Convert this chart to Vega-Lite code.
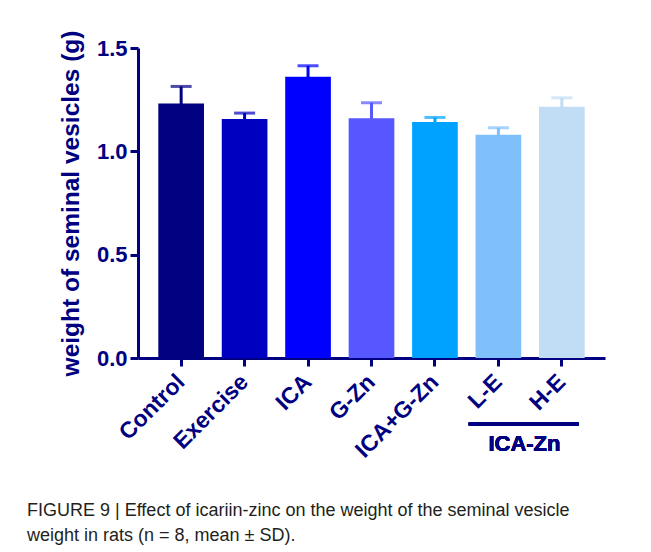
{
  "$schema": "https://vega.github.io/schema/vega-lite/v6.json",
  "width": 467,
  "height": 310,
  "autosize": "none",
  "padding": {"left": 138, "top": 48, "right": 46, "bottom": 194},
  "background": "white",
  "config": {"view": {"stroke": null}, "font": "Liberation Sans"},
  "title": {
    "text": ["FIGURE 9 | Effect of icariin-zinc on the weight of the seminal vesicle", "weight in rats (n = 8, mean ± SD)."],
    "orient": "bottom",
    "anchor": "start",
    "frame": "group",
    "dx": -111,
    "offset": 40,
    "font": "Liberation Sans",
    "fontSize": 18,
    "fontWeight": "normal",
    "color": "#231f20",
    "lineHeight": 25
  },
  "data": {
    "values": [
      {"group": "Control", "mean": 1.232, "sd": 0.082},
      {"group": "Exercise", "mean": 1.156, "sd": 0.029},
      {"group": "ICA", "mean": 1.361, "sd": 0.053},
      {"group": "G-Zn", "mean": 1.160, "sd": 0.075},
      {"group": "ICA+G-Zn", "mean": 1.142, "sd": 0.022},
      {"group": "L-E", "mean": 1.080, "sd": 0.034},
      {"group": "H-E", "mean": 1.216, "sd": 0.043}
    ]
  },
  "encoding": {
    "x": {
      "field": "group",
      "type": "nominal",
      "sort": null,
      "scale": {"paddingInner": 0.28, "paddingOuter": 0.32},
      "axis": {
        "title": null,
        "labelAngle": -45,
        "labelAlign": "right",
        "labelBaseline": "middle",
        "labelFont": "Liberation Sans",
        "labelFontSize": 23,
        "labelFontWeight": "bold",
        "labelColor": "#000080",
        "labelPadding": 12,
        "domainColor": "#000080",
        "domainWidth": 3,
        "tickColor": "#000080",
        "tickWidth": 3,
        "tickSize": 8
      }
    },
    "color": {
      "field": "group",
      "type": "nominal",
      "legend": null,
      "scale": {
        "domain": ["Control", "Exercise", "ICA", "G-Zn", "ICA+G-Zn", "L-E", "H-E"],
        "range": ["#000080", "#0000c0", "#0000ff", "#5757ff", "#00a2ff", "#7fc0fb", "#c0ddf5"]
      }
    }
  },
  "layer": [
    {
      "mark": {"type": "bar"},
      "encoding": {
        "y": {
          "field": "mean",
          "type": "quantitative",
          "title": "weight of seminal vesicles (g)",
          "scale": {"domain": [0, 1.5], "nice": false},
          "axis": {
            "titleFont": "Liberation Sans",
            "titleFontSize": 24.5,
            "titleFontWeight": "bold",
            "titleColor": "#000080",
            "titlePadding": 13,
            "values": [0, 0.5, 1, 1.5],
            "format": ".1f",
            "grid": false,
            "labelFont": "Liberation Sans",
            "labelFontSize": 22,
            "labelFontWeight": "bold",
            "labelColor": "#000080",
            "labelPadding": 3,
            "domainColor": "#000080",
            "domainWidth": 3,
            "tickColor": "#000080",
            "tickWidth": 3,
            "tickSize": 8
          }
        }
      }
    },
    {
      "mark": {"type": "errorbar", "ticks": {"size": 21, "thickness": 3}, "rule": {"strokeWidth": 3}},
      "encoding": {
        "y": {"field": "mean", "type": "quantitative", "title": "weight of seminal vesicles (g)"},
        "yError": {"field": "sd"}
      }
    },
    {
      "mark": {"type": "rule", "color": "#000080", "strokeWidth": 3},
      "encoding": {
        "x": {"datum": "L-E", "bandPosition": -0.15},
        "x2": {"datum": "H-E", "bandPosition": 0.87},
        "y": {"datum": -0.319},
        "color": {"value": "#000080"}
      }
    },
    {
      "mark": {"type": "text", "text": "ICA-Zn", "font": "Liberation Sans", "fontSize": 22, "fontWeight": "bold", "baseline": "middle", "align": "center"},
      "encoding": {
        "x": {"datum": "L-E", "bandPosition": 1.07},
        "y": {"datum": -0.416},
        "color": {"value": "#000080"}
      }
    }
  ]
}
